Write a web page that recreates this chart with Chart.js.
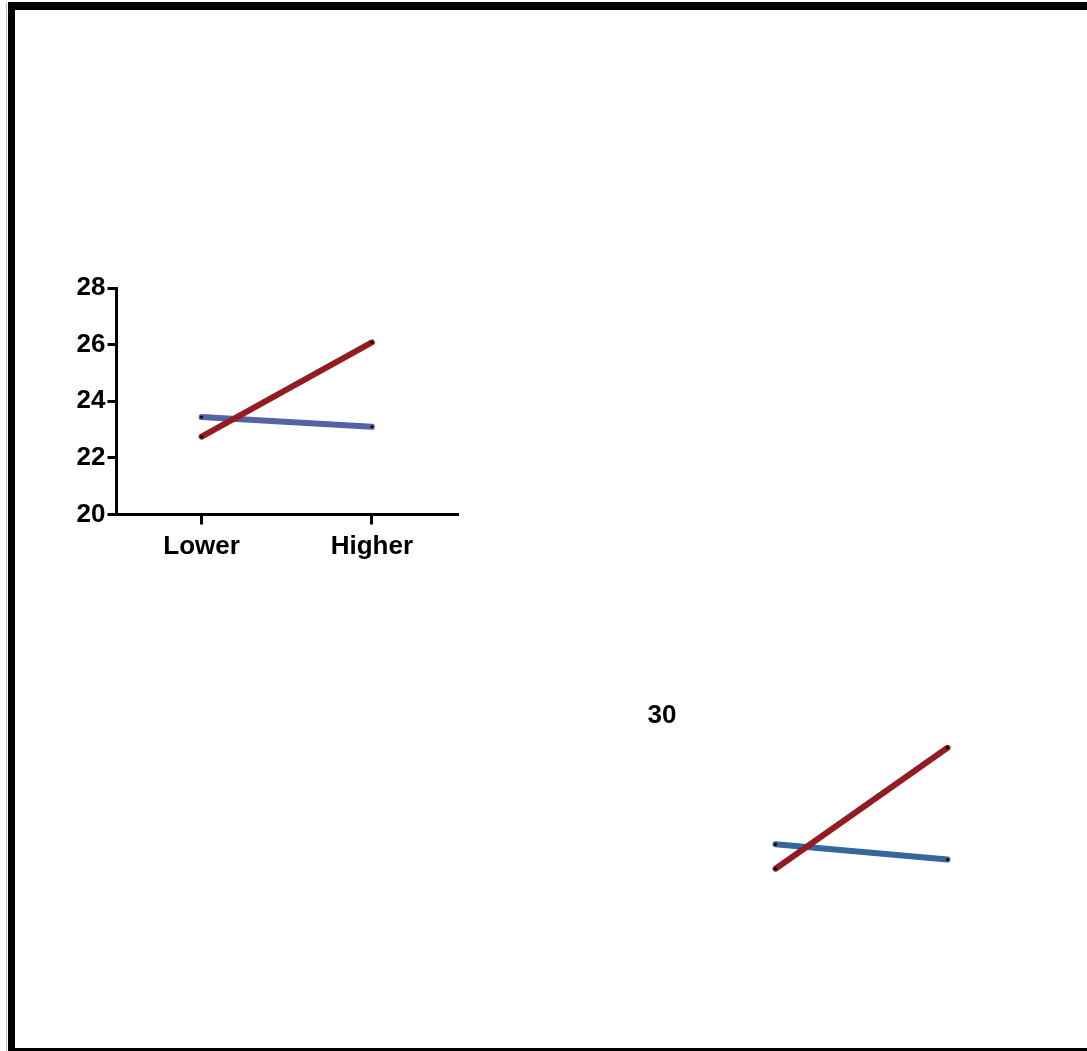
<!DOCTYPE html>
<html>
<head>
<meta charset="utf-8">
<script src="https://cdn.jsdelivr.net/npm/chart.js@4"></script>
<style>
  html, body { margin: 0; padding: 0; background: #fff; width: 1087px; height: 1051px; overflow: hidden; }
  #frame { position: absolute; left: 8px; top: 2px; width: 1200px;
           border-top: 8px solid #000; border-left: 7px solid #000; border-bottom: 3px solid #000; box-sizing: border-box; height: 1049px; }
  #edge { position: absolute; left: 6px; top: 2px; width: 1px; height: 1049px; background: #bbb; }
  .box { position: absolute; }
  #lbl30 { position: absolute; left: 612px; top: 701px; width: 100px; text-align: center;
           font: bold 26px "Liberation Sans", Arial, sans-serif; line-height: 26px; color: #000; }
</style>
</head>
<body>
<div id="edge"></div>
<div id="frame"></div>
<div class="box" style="left:50px; top:270px; width:420px; height:300px;"><canvas id="c1"></canvas></div>
<div class="box" style="left:688px; top:604px; width:347px; height:366px;"><canvas id="c2"></canvas></div>
<div id="lbl30">30</div>
<script>
// ---- data ----
const categories = ['Lower', 'Higher'];
const blueValues = [23.44, 23.10];
const redValues = [22.75, 26.08];
const yTickValues = [20, 22, 24, 26, 28];
const blueValues2 = [23.42, 23.00];
const redValues2 = [22.75, 26.08];
const extraLabel = '30';

document.getElementById('lbl30').textContent = extraLabel;

const FONT = { family: '"Liberation Sans", Arial, sans-serif', weight: 'bold', size: 26 };
const RED = '#931B22';

function lineDs(label, data, color, order) {
  return {
    label, data, borderColor: color, backgroundColor: color,
    borderWidth: 6, borderCapStyle: 'round', tension: 0, order,
    pointRadius: 1.5, pointBackgroundColor: '#000', pointBorderWidth: 0, pointHoverRadius: 1.5
  };
}

new Chart(document.getElementById('c1'), {
  type: 'line',
  data: {
    labels: categories,
    datasets: [
      lineDs('Blue', blueValues, '#5562A6', 1),
      lineDs('Red', redValues, RED, 0)
    ]
  },
  options: {
    responsive: true, maintainAspectRatio: false, animation: false,
    layout: { padding: { top: 18, right: 13, left: 0, bottom: 0 } },
    plugins: { legend: { display: false }, tooltip: { enabled: false } },
    scales: {
      x: {
        type: 'category', offset: true,
        afterFit: s => { s.height = 55.5; },
        border: { display: true, color: '#000', width: 3 },
        grid: { display: true, offset: false, drawOnChartArea: false, drawTicks: true, tickLength: 10, color: '#000', lineWidth: 3 },
        ticks: { color: '#000', font: FONT, padding: 7, maxRotation: 0 }
      },
      y: {
        min: 20, max: 28,
        afterFit: s => { s.width = 66.5; },
        afterBuildTicks: s => { s.ticks = yTickValues.map(v => ({ value: v })); },
        border: { display: true, color: '#000', width: 3 },
        grid: { display: true, drawOnChartArea: false, drawTicks: true, tickLength: 9, color: '#000', lineWidth: 3 },
        ticks: { color: '#000', font: FONT, padding: 2 }
      }
    }
  }
});

new Chart(document.getElementById('c2'), {
  type: 'line',
  data: {
    labels: categories,
    datasets: [
      lineDs('Blue', blueValues2, '#35679A', 1),
      lineDs('Red', redValues2, RED, 0)
    ]
  },
  options: {
    responsive: true, maintainAspectRatio: false, animation: false,
    layout: { padding: 0 },
    plugins: { legend: { display: false }, tooltip: { enabled: false } },
    scales: {
      x: { type: 'category', offset: true, display: false },
      y: { min: 20, max: 30, display: false }
    }
  }
});
</script>
</body>
</html>
